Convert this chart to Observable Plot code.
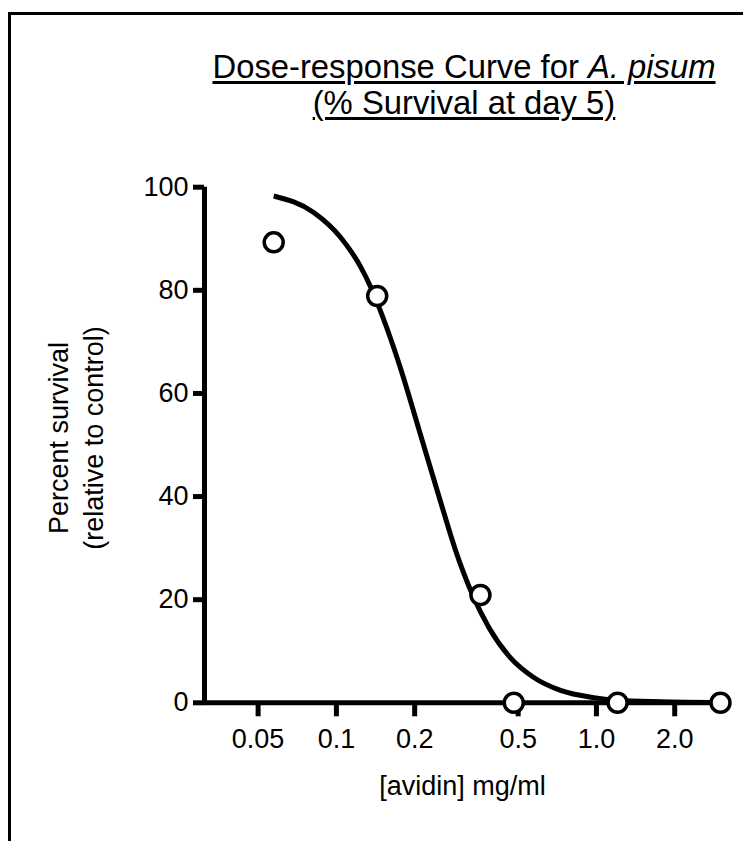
<!DOCTYPE html>
<html>
<head>
<meta charset="utf-8">
<script src="https://cdn.jsdelivr.net/npm/d3@7"></script>
<script src="https://cdn.jsdelivr.net/npm/@observablehq/plot@0.6"></script>
<style>
  html, body { margin: 0; padding: 0; background: #fff; }
  #wrap { position: relative; width: 743px; height: 841px; overflow: hidden; font-family: "Liberation Sans", Arial, Helvetica, sans-serif; color: #000; }
  #borderTop { position: absolute; left: 7.5px; top: 11.5px; right: 0; height: 3px; background: #000; }
  #borderLeft { position: absolute; left: 7.5px; top: 11.5px; bottom: 0; width: 3px; background: #000; }
  .title { position: absolute; left: 164px; width: 600px; text-align: center; font-size: 32.8px; line-height: 38px; white-space: nowrap; text-decoration: underline; text-decoration-thickness: 2.5px; text-underline-offset: 3px; }
  #chart { position: absolute; left: 0; top: 0; }
</style>
</head>
<body>
<div id="wrap">
  <div id="chart"></div>
  <div id="borderTop"></div>
  <div id="borderLeft"></div>
  <div class="title" id="t1" style="top:48px"></div>
  <div class="title" id="t2" style="top:84px"></div>
</div>
<script>
// ---- Data ----
const titleMain = "Dose-response Curve for ";
const titleSpecies = "A. pisum";
const subtitle = "(% Survival at day 5)";
const yLabelLines = ["Percent survival", "(relative to control)"];
const xLabel = "[avidin] mg/ml";

// observed points: avidin dose (mg/ml) and % survival
const dose = [0.0574, 0.1435, 0.358, 0.481, 1.206, 3.0];
const survival = [89.3, 78.9, 20.9, 0, 0, 0];

// fitted dose-response curve
const curveDose = [0.0574, 0.0818, 0.1037, 0.1238, 0.1353, 0.1568, 0.1764, 0.2106, 0.2515, 0.2871, 0.3328, 0.3857, 0.4673, 0.5742, 0.7275, 0.977, 1.206, 1.764, 3.0];
const curveSurvival = [98.3, 95.1, 90.3, 84.6, 80.7, 72.5, 64.9, 52.0, 39.0, 29.6, 21.1, 14.6, 8.7, 4.9, 2.4, 1.0, 0.5, 0.2, 0.05];

const xTicks = [0.05, 0.1, 0.2, 0.5, 1, 2];
const xTickLabels = ["0.05", "0.1", "0.2", "0.5", "1.0", "2.0"];
const yTicks = [0, 20, 40, 60, 80, 100];
const xDomain = [0.0311, 3.0];
const yDomain = [0, 100];

// ---- Build tables ----
const points = dose.map((d, i) => ({dose: d, survival: survival[i]}));
const curve = curveDose.map((d, i) => ({dose: d, survival: curveSurvival[i]}));

// ---- Title (HTML, underlined, species in italics) ----
const t1 = document.getElementById("t1");
t1.appendChild(document.createTextNode(titleMain));
const it = document.createElement("i");
it.textContent = titleSpecies;
t1.appendChild(it);
document.getElementById("t2").textContent = subtitle;

const FONT = "Liberation Sans, Arial, Helvetica, sans-serif";

const chart = Plot.plot({
  width: 743,
  height: 841,
  marginLeft: 204,
  marginRight: 23,
  marginTop: 186.7,
  marginBottom: 138.7,
  style: {fontFamily: FONT, fontSize: "27px", color: "#000", background: "transparent", overflow: "visible"},
  x: {type: "log", domain: xDomain},
  y: {domain: yDomain},
  marks: [
    Plot.line(curve, {x: "dose", y: "survival", curve: "monotone-x", stroke: "#000", strokeWidth: 5, strokeLinecap: "butt"}),
    Plot.ruleY([0], {stroke: "#000", strokeWidth: 5}),
    Plot.ruleX([xDomain[0]], {y1: yDomain[0], y2: yDomain[1], stroke: "#000", strokeWidth: 5}),
    Plot.axisY({ticks: yTicks, tickSize: 11, tickPadding: 5, strokeWidth: 5, fontSize: 27, label: null}),
    Plot.axisX({ticks: xTicks, tickFormat: d => xTickLabels[xTicks.indexOf(d)], tickSize: 14, tickPadding: 12, strokeWidth: 5, fontSize: 27, label: null}),
    Plot.dot(points, {x: "dose", y: "survival", r: 9.5, stroke: "#000", strokeWidth: 3.5, fill: "#fff"}),
    Plot.text([yLabelLines[0]], {text: d => d, frameAnchor: "left", textAnchor: "middle", lineAnchor: "middle", rotate: -90, dx: -145, dy: -7, fontSize: 27, fill: "#000"}),
    Plot.text([yLabelLines[1]], {text: d => d, frameAnchor: "left", textAnchor: "middle", lineAnchor: "middle", rotate: -90, dx: -110, dy: -7, fontSize: 27, fill: "#000"}),
    Plot.text([xLabel], {text: d => d, frameAnchor: "bottom", textAnchor: "middle", lineAnchor: "middle", dy: 84, fontSize: 27, fill: "#000"})
  ]
});
document.getElementById("chart").appendChild(chart);
</script>
</body>
</html>
